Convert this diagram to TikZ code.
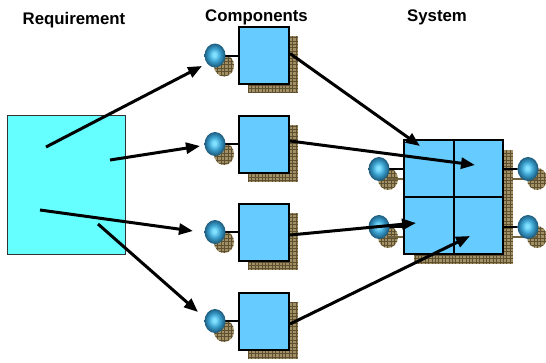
\documentclass[tikz,border=0pt]{standalone}
\usepackage{fontspec}
\setmainfont{Liberation Sans}
\usetikzlibrary{arrows.meta,shapes.geometric}
\definecolor{reqfill}{HTML}{66FFFF}
\definecolor{compfill}{HTML}{66CCFF}
\definecolor{shadefill}{HTML}{A09064}
\definecolor{shadeline}{HTML}{5E5030}
\definecolor{ballhi}{HTML}{80E0FF}
\definecolor{ballmid}{HTML}{3A9ECC}
\definecolor{balledge}{HTML}{1E5E80}
\pgfdeclareradialshading{knobshade}{\pgfpoint{-2bp}{2bp}}{color(0bp)=(ballhi); color(4bp)=(ballhi); color(14bp)=(ballmid); color(24bp)=(balledge); color(50bp)=(balledge)}
\begin{document}
\begin{tikzpicture}[x=1pt,y=-1pt,
  title/.style={font=\bfseries\fontsize{16.8}{18}\selectfont, anchor=base, inner sep=0pt},
  compbox/.style={draw=black, line width=2pt, fill=compfill, minimum width=50pt, minimum height=57pt, inner sep=0pt},
  sysbox/.style={draw=black, line width=2pt, fill=compfill, minimum width=49.5pt, minimum height=57pt, inner sep=0pt},
  shadowfill/.style={fill=shadefill, path picture={
      \draw[shadeline, line width=0.55pt, step=3.4pt]
        (path picture bounding box.south west) grid (path picture bounding box.north east);}},
  knob/.style={ellipse, shading=knobshade, minimum width=21pt, minimum height=24pt, inner sep=0pt},
  wire/.style={line width=2pt, black},
  shadowwire/.style={line width=2pt, shadeline!70!shadefill},
  flow/.style={line width=3pt, -{Triangle[length=14pt,width=11pt]}}]
\useasboundingbox (0,0) rectangle (546,362);

% column headings
\node[title] (tr) at (74,24) {Requirement};
\node[title] (tc) at (256.5,21.7) {Components};
\node[title] (ts) at (437,21.7) {System};

% requirement block
\node[draw=black!80, line width=1pt, fill=reqfill, minimum width=118pt, minimum height=139pt, inner sep=0pt] (req) at (66,184.5) {};

% components with their knobs and hatched shadows
\foreach \i/\y in {1/55.5,2/144,3/232,4/321}{
  \path[shadowfill] (224,\y+10) ellipse [x radius=10, y radius=11];
  \draw[wire] (215,\y) -- (240,\y);
  \node[knob] (b\i) at (215,\y) {};
  \path[shadowfill] (248,\y-19.5) rectangle (298,\y+37.5);
  \node[compbox] (c\i) at (264,\y) {};
}

% system: shadow, side knobs, four cells
\path[shadowfill] (414,150) rectangle (513,264);
\foreach \j/\y in {1/169,2/227}{
  \path[shadowfill] (388,\y+10) ellipse [x radius=10, y radius=11];
  \draw[shadowwire] (388,\y+10) -- (414,\y+10);
  \draw[wire] (379,\y) -- (405,\y);
  \node[knob] (sl\j) at (379,\y) {};
  \path[shadowfill] (537,\y+10) ellipse [x radius=10, y radius=11];
  \draw[shadowwire] (512,\y+10) -- (537,\y+10);
  \draw[wire] (503,\y) -- (528,\y);
  \node[knob] (sr\j) at (528,\y) {};
}
\node[sysbox] (s11) at (429,168.5) {};
\node[sysbox] (s12) at (478.5,168.5) {};
\node[sysbox] (s21) at (429,225.5) {};
\node[sysbox] (s22) at (478.5,225.5) {};

% arrow ends
\coordinate (r1) at (46,147);
\coordinate (r2) at (110,160);
\coordinate (r3) at (40,210);
\coordinate (r4) at (98,224);
\coordinate (t1) at (202,66);
\coordinate (t2) at (200,146);
\coordinate (t3) at (193,231);
\coordinate (t4) at (198,312);
\coordinate (u1) at (420,146);
\coordinate (u2) at (475,165);
\coordinate (u3) at (416,223);
\coordinate (u4) at (470,236);

% requirement split into components
\draw[flow] (r1) -- (t1);
\draw[flow] (r2) -- (t2);
\draw[flow] (r3) -- (t3);
\draw[flow] (r4) -- (t4);

% components assembled into the system
\draw[flow] ([yshift=2]c1.east) -- (u1);
\draw[flow] ([yshift=3]c2.east) -- (u2);
\draw[flow] ([yshift=-3]c3.east) -- (u3);
\draw[flow] ([yshift=-3]c4.east) -- (u4);
\end{tikzpicture}
\end{document}
